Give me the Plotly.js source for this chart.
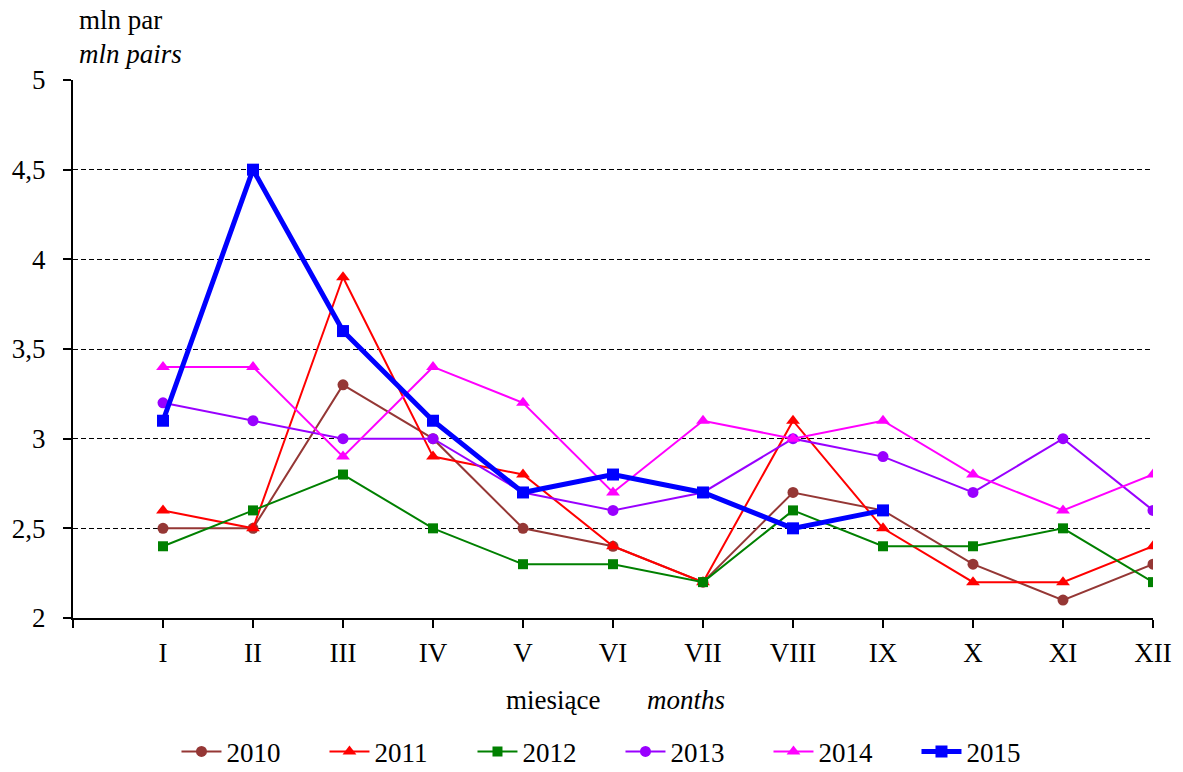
<!DOCTYPE html>
<html>
<head>
<meta charset="utf-8">
<script src="https://cdn.plot.ly/plotly-3.0.1.min.js"></script>
<style>html,body{margin:0;padding:0;background:#fff;}#chart{width:1183px;height:772px;}</style>
</head>
<body>
<div id="chart"></div>
<script>
const months = ['I','II','III','IV','V','VI','VII','VIII','IX','X','XI','XII'];
const monthPos = [1,2,3,4,5,6,7,8,9,10,11,12];
const y2010 = [2.5, 2.5, 3.3, 3.0, 2.5, 2.4, 2.2, 2.7, 2.6, 2.3, 2.1, 2.3];
const y2011 = [2.6, 2.5, 3.9, 2.9, 2.8, 2.4, 2.2, 3.1, 2.5, 2.2, 2.2, 2.4];
const y2012 = [2.4, 2.6, 2.8, 2.5, 2.3, 2.3, 2.2, 2.6, 2.4, 2.4, 2.5, 2.2];
const y2013 = [3.2, 3.1, 3.0, 3.0, 2.7, 2.6, 2.7, 3.0, 2.9, 2.7, 3.0, 2.6];
const y2014 = [3.4, 3.4, 2.9, 3.4, 3.2, 2.7, 3.1, 3.0, 3.1, 2.8, 2.6, 2.8];
const y2015 = [3.1, 4.5, 3.6, 3.1, 2.7, 2.8, 2.7, 2.5, 2.6];
const yTicks = [2, 2.5, 3, 3.5, 4, 4.5, 5];
const yTickText = ['2','2,5','3','3,5','4','4,5','5'];

const FONT = 'Liberation Serif, Times New Roman, serif';
const FS = 27;

function tr(name, y, color, symbol, msize, lw) {
  return {
    type: 'scatter', mode: 'lines+markers', name: name,
    x: monthPos.slice(0, y.length), y: y,
    line: {color: color, width: lw},
    marker: {color: color, symbol: symbol, size: msize}
  };
}

const data = [
  tr('2010', y2010, '#953735', 'circle', 11, 2),
  tr('2011', y2011, '#FF0000', 'triangle-up', 12, 2),
  tr('2012', y2012, '#008000', 'square', 10, 2),
  tr('2013', y2013, '#9900FF', 'circle', 11, 2),
  tr('2014', y2014, '#FF00FF', 'triangle-up', 12, 2),
  tr('2015', y2015, '#0000FF', 'square', 12, 5)
];

const layout = {
  width: 1183, height: 772,
  margin: {l: 73, r: 30, t: 80, b: 154},
  paper_bgcolor: '#fff', plot_bgcolor: '#fff',
  font: {family: FONT, size: FS, color: '#000'},
  separators: ', ',
  showlegend: true,
  legend: {orientation: 'h', x: 0.5245, xanchor: 'center', xref: 'container',
           y: 0.026, yanchor: 'middle', yref: 'container',
           entrywidth: 93, entrywidthmode: 'pixels',
           font: {family: FONT, size: FS, color: '#000'}, itemwidth: 40, tracegroupgap: 0},
  xaxis: {
    range: [0, 12], tickvals: [0,1,2,3,4,5,6,7,8,9,10,11,12],
    ticktext: [''].concat(months),
    showgrid: false, zeroline: false, showline: true, linecolor: '#000', linewidth: 2,
    ticks: 'outside', ticklen: 8, tickwidth: 2, tickcolor: '#000',
    ticklabelstandoff: 2, automargin: false,
    tickfont: {family: FONT, size: FS, color: '#000'}
  },
  yaxis: {
    range: [2, 5], tickvals: yTicks, ticktext: yTickText,
    showgrid: true, gridcolor: '#000', gridwidth: 1, griddash: '5px,3px',
    zeroline: false, showline: true, linecolor: '#000', linewidth: 2,
    ticks: 'outside', ticklen: 8, tickwidth: 2, tickcolor: '#000',
    ticklabelstandoff: 12, automargin: false,
    tickfont: {family: FONT, size: FS, color: '#000'}
  },
  annotations: [
    {text: 'mln par', xref: 'paper', yref: 'paper', x: 0.004, y: 1.0, yshift: 60, xanchor: 'left', yanchor: 'middle', showarrow: false, font: {family: FONT, size: FS}},
    {text: '<i>mln pairs</i>', xref: 'paper', yref: 'paper', x: 0.004, y: 1.0, yshift: 26, xanchor: 'left', yanchor: 'middle', showarrow: false, font: {family: FONT, size: FS}},
    {text: 'miesiące', xref: 'paper', yref: 'paper', x: 0.444, y: 0, yshift: -82, xanchor: 'center', yanchor: 'middle', showarrow: false, font: {family: FONT, size: FS}},
    {text: '<i>months</i>', xref: 'paper', yref: 'paper', x: 0.568, y: 0, yshift: -82, xanchor: 'center', yanchor: 'middle', showarrow: false, font: {family: FONT, size: FS}}
  ]
};

Plotly.newPlot('chart', data, layout, {displayModeBar: false, staticPlot: true});
</script>
</body>
</html>
